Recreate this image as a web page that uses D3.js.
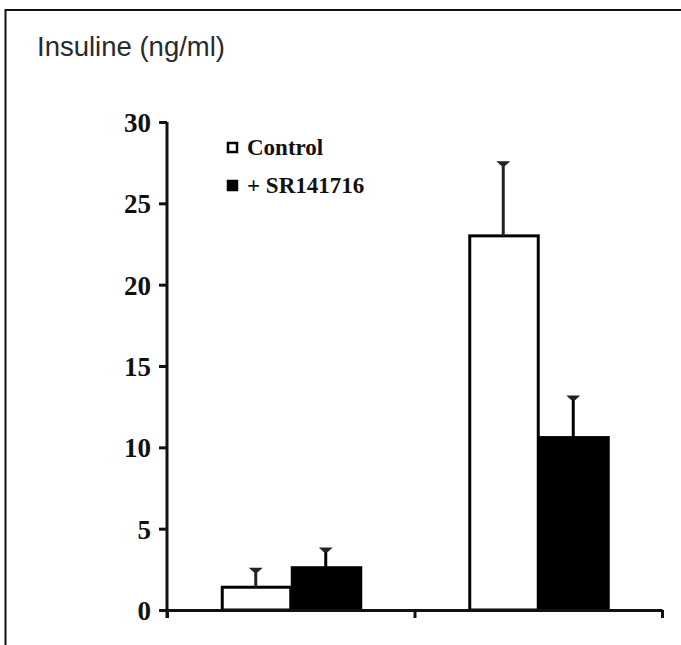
<!DOCTYPE html>
<html><head><meta charset="utf-8">
<script src="https://cdn.jsdelivr.net/npm/d3@7"></script>
<style>body{margin:0;background:#fff}svg{display:block}</style>
</head><body>
<svg id="chart" width="681" height="645"></svg>
<script>
const groups = ["Group 1", "Group 2"];
const series = ["Control", "+ SR141716"];
const controlValues = [1.4, 23.0];
const controlErrorTops = [2.5, 27.5];
const srValues = [2.6, 10.6];
const srErrorTops = [3.75, 13.1];
const yTicks = [0, 5, 10, 15, 20, 25, 30];
const yTitle = "Insuline (ng/ml)";

const data = groups.map((g, i) => [
  {group: g, series: series[0], value: controlValues[i], err: controlErrorTops[i], fill: "#fff"},
  {group: g, series: series[1], value: srValues[i], err: srErrorTops[i], fill: "#000"}
]).flat();

const svg = d3.select("#chart");
// frame (top + left)
svg.append("line").attr("x1", 5.5).attr("x2", 681).attr("y1", 10).attr("y2", 10).attr("stroke", "#111").attr("stroke-width", 2);
svg.append("line").attr("x1", 5.5).attr("x2", 5.5).attr("y1", 9).attr("y2", 645).attr("stroke", "#111").attr("stroke-width", 2);

const y = d3.scaleLinear().domain([0, 30]).range([610, 122]);
const x = d3.scaleBand().domain(groups).range([167, 662]).padding(0);
const xs = d3.scaleBand().domain(series).range([x.bandwidth()/2 - 70, x.bandwidth()/2 + 70]).padding(0);
const xEdge = d3.scaleLinear().domain([0, groups.length]).range([167, 662]);

// title
svg.append("text").attr("x", 37).attr("y", 56).text(yTitle)
  .attr("font-family", "Liberation Sans, Arial, sans-serif").attr("font-size", 28)
  .attr("fill", "#2a2a2a").attr("textLength", 188).attr("lengthAdjust", "spacingAndGlyphs");

// bars
const bars = svg.append("g");
bars.selectAll("rect").data(data).join("rect")
  .attr("x", d => x(d.group) + xs(d.series) + 1.5)
  .attr("width", xs.bandwidth() - 1.5)
  .attr("y", d => y(d.value))
  .attr("height", d => y(0) - y(d.value))
  .attr("fill", d => d.fill).attr("stroke", "#000").attr("stroke-width", 3);

// error bars
const eb = svg.append("g");
data.forEach(d => {
  const cx = x(d.group) + xs(d.series) + xs.bandwidth()/2;
  eb.append("line").attr("x1", cx).attr("x2", cx).attr("y1", y(d.value)).attr("y2", y(d.err))
    .attr("stroke", d.fill === "#000" ? "#000" : "#222").attr("stroke-width", 3);
  const t = y(d.err);
  eb.append("path").attr("d", `M${cx-7},${t-1.5}L${cx+7},${t-1.5}L${cx+2},${t+3}L${cx-2},${t+3}Z`)
    .attr("fill", "#222");
});

// y axis
const ya = svg.append("g").attr("transform", "translate(167,0)")
  .call(d3.axisLeft(y).tickValues(yTicks).tickSize(8).tickSizeOuter(0).tickPadding(8));
ya.select(".domain").attr("stroke", "#111").attr("stroke-width", 3).attr("d", `M0,${y(30)}V${y(0)+8}`);
ya.selectAll(".tick line").attr("stroke", "#111").attr("stroke-width", 3);
ya.selectAll(".tick text").attr("font-family", "Liberation Serif, Times New Roman, serif")
  .attr("font-weight", "bold").attr("font-size", 27).attr("fill", "#111").attr("dy", "0.35em");
// x axis
const xa = svg.append("g").attr("transform", "translate(0,610)")
  .call(d3.axisBottom(xEdge).tickValues([0, 1, 2]).tickSize(8).tickSizeOuter(0).tickFormat(""));
xa.select(".domain").attr("stroke", "#111").attr("stroke-width", 3);
xa.selectAll(".tick line").attr("stroke", "#111").attr("stroke-width", 3);

// legend
const lg = svg.append("g");
series.forEach((s, i) => {
  const yy = 148 + i * 38;
  lg.append("rect").attr("x", 228).attr("y", yy - 5).attr("width", 9).attr("height", 9)
    .attr("fill", i === 0 ? "#fff" : "#000").attr("stroke", "#000").attr("stroke-width", 2.5);
  lg.append("text").attr("x", 247).attr("y", yy + 7).text(s)
    .attr("font-family", "Liberation Serif, Times New Roman, serif").attr("font-weight", "bold")
    .attr("font-size", 23).attr("fill", "#111");
});
</script>
</body></html>
